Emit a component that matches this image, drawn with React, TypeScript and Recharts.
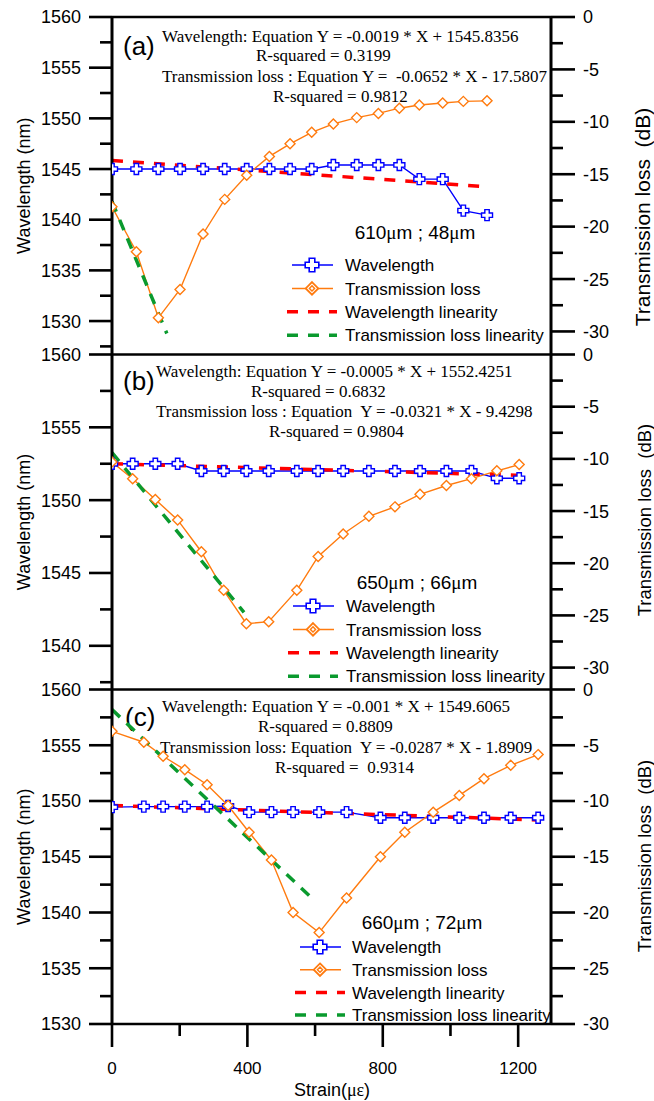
import React from 'react';
import { LineChart, Line, XAxis, YAxis, Legend, Label, ReferenceLine } from 'recharts';

// (a) 610μm ; 48μm
const strainA = [0, 72, 137, 201, 269, 333, 398, 465, 526, 590, 654, 723, 787, 849, 908, 977, 1038, 1108];
const wavelengthA = [1545, 1545, 1545, 1545, 1545, 1545, 1545, 1545, 1545, 1545, 1545.4, 1545.4, 1545.4, 1545.4, 1544.0, 1544.0, 1540.9, 1540.45];
const lossA = [-18.1, -22.4, -28.7, -26.0, -20.7, -17.4, -15.1, -13.3, -12.1, -11.0, -10.2, -9.6, -9.2, -8.7, -8.4, -8.2, -8.05, -8.0];
const wlFitStrainA = [0, 1109];
const wlFitA = [1545.84, 1543.25];
const lossFitStrainA = [0, 162];
const lossFitA = [-17.6, -30.2];

// (b) 650μm ; 66μm
const strainB = [0, 61, 128, 194, 264, 330, 397, 463, 546, 609, 683, 759, 836, 910, 988, 1062, 1137, 1203];
const wavelengthB = [1552.5, 1552.5, 1552.5, 1552.5, 1552.0, 1552.0, 1552.0, 1552.0, 1552.0, 1552.0, 1552.0, 1552.0, 1552.0, 1552.0, 1552.0, 1552.0, 1551.5, 1551.5];
const lossB = [-10.3, -11.9, -13.9, -15.85, -18.9, -22.6, -25.8, -25.6, -22.6, -19.35, -17.2, -15.5, -14.6, -13.4, -12.55, -11.9, -11.15, -10.55];
const wlFitStrainB = [0, 1207];
const wlFitB = [1552.5, 1551.7];
const lossFitStrainB = [0, 390];
const lossFitB = [-9.4, -24.7];

// (c) 660μm ; 72μm
const strainC = [0, 94, 151, 215, 281, 343, 405, 471, 535, 612, 693, 793, 865, 949, 1026, 1099, 1178, 1259];
const wavelengthC = [1549.45, 1549.5, 1549.5, 1549.5, 1549.5, 1549.55, 1549.0, 1549.0, 1549.0, 1549.0, 1549.0, 1548.5, 1548.5, 1548.5, 1548.5, 1548.5, 1548.5, 1548.5];
const lossC = [-3.75, -4.73, -5.99, -7.19, -8.54, -10.4, -12.8, -15.3, -20.0, -21.8, -18.7, -15.0, -12.8, -11.0, -9.5, -8.0, -6.8, -5.84];
const wlFitStrainC = [0, 1259];
const wlFitC = [1549.6, 1548.3];
const lossFitStrainC = [0, 590];
const lossFitC = [-1.8, -18.7];

const strainTicks = [0, 200, 400, 600, 800, 1000, 1200];
const leftTicksA = [1527.5, 1530, 1532.5, 1535, 1537.5, 1540, 1542.5, 1545, 1547.5, 1550, 1552.5, 1555, 1557.5, 1560];
const leftTicksB = [1537.5, 1540, 1542.5, 1545, 1547.5, 1550, 1552.5, 1555, 1557.5, 1560];
const leftTicksC = [1530, 1532.5, 1535, 1537.5, 1540, 1542.5, 1545, 1547.5, 1550, 1552.5, 1555, 1557.5, 1560];
const lossTicks = [-30, -27.5, -25, -22.5, -20, -17.5, -15, -12.5, -10, -7.5, -5, -2.5, 0];

const legendNames = ['Wavelength', 'Transmission loss', 'Wavelength linearity', 'Transmission loss linearity'];

const eqA = ['Wavelength: Equation Y = -0.0019 * X + 1545.8356', 'R-squared = 0.3199', 'Transmission loss : Equation Y =  -0.0652 * X - 17.5807', 'R-squared = 0.9812'];
const eqB = ['Wavelength: Equation Y = -0.0005 * X + 1552.4251', 'R-squared = 0.6832', 'Transmission loss : Equation  Y = -0.0321 * X - 9.4298', 'R-squared = 0.9804'];
const eqC = ['Wavelength: Equation Y = -0.001 * X + 1549.6065', 'R-squared = 0.8809', 'Transmission loss: Equation  Y = -0.0287 * X - 1.8909', 'R-squared =  0.9314'];

const ARIAL = "'Liberation Sans', Arial, sans-serif";
const TIMES = "'Liberation Serif', 'Times New Roman', serif";
const BLUE = '#0000ff';
const ORANGE = '#ff7b0f';
const RED = '#ff0000';
const GREEN = '#0a9a2e';

const table = (s: number[], w: number[], l: number[]) => s.map((x, i) => ({ strain: x, wavelength: w[i], loss: l[i] }));
const fit = (s: number[], v: number[]) => s.map((x, i) => ({ strain: x, value: v[i] }));

const crossPath = (x: number, y: number, l: number, w: number) =>
  `M${x - w},${y - l}H${x + w}V${y - w}H${x + l}V${y + w}H${x + w}V${y + l}H${x - w}V${y + w}H${x - l}V${y - w}H${x - w}Z`;
const diamondPath = (x: number, y: number, r: number) => `M${x},${y - r}L${x + r},${y}L${x},${y + r}L${x - r},${y}Z`;

const CrossDot = (p: any) =>
  p.cx == null ? null : <path key={`c${p.index}`} d={crossPath(p.cx, p.cy, 5.5, 2.2)} fill="#fff" stroke={BLUE} strokeWidth={1.4} />;
const DiamondDot = (p: any) =>
  p.cx == null ? null : <path key={`d${p.index}`} d={diamondPath(p.cx, p.cy, 5)} fill="#fff" stroke={ORANGE} strokeWidth={1.4} />;

const LeftTick = (p: any) => {
  const major = p.payload.value % 5 === 0;
  return (
    <g>
      <line x1={p.x - (major ? 23 : 12)} x2={p.x} y1={p.y} y2={p.y} stroke="#000" strokeWidth={2.6} />
      {major ? (
        <text x={p.x - 31} y={p.y} dy="0.36em" textAnchor="end" fontFamily={ARIAL} fontSize={18} fill="#000">
          {p.payload.value}
        </text>
      ) : null}
    </g>
  );
};

const RightTick = (p: any) => {
  const major = p.payload.value % 5 === 0;
  return (
    <g>
      <line x1={p.x} x2={p.x + (major ? 24 : 12)} y1={p.y} y2={p.y} stroke="#000" strokeWidth={2.6} />
      {major ? (
        <text x={p.x + 32} y={p.y} dy="0.36em" textAnchor="start" fontFamily={ARIAL} fontSize={18} fill="#000">
          {p.payload.value}
        </text>
      ) : null}
    </g>
  );
};

const BottomTick = (p: any) => {
  const major = p.payload.value % 400 === 0;
  return (
    <g>
      <line x1={p.x} x2={p.x} y1={p.y} y2={p.y + (major ? 23 : 12)} stroke="#000" strokeWidth={2.6} />
      {major ? (
        <text x={p.x} y={p.y + 44} dy="0.36em" textAnchor="middle" fontFamily={ARIAL} fontSize={17} fill="#000">
          {p.payload.value}
        </text>
      ) : null}
    </g>
  );
};

type LegendCfg = { lineX: number; textX: number; titleX: number; titleY: number; rowY: number; step: number; a: string; b: string };

const LegendBox = ({ cfg }: { cfg: LegendCfg }) => {
  const ox = cfg.lineX - 8;
  const oy = cfg.titleY - 15;
  const lx = cfg.lineX - ox;
  return (
    <svg width={275} height={140} style={{ display: 'block', overflow: 'visible' }}>
      <text x={cfg.titleX - ox} y={15} dy="0.36em" textAnchor="middle" fontFamily={ARIAL} fontSize={19} fill="#000">
        {cfg.a}
        <tspan fontFamily={TIMES}>μ</tspan>m ; {cfg.b}
        <tspan fontFamily={TIMES}>μ</tspan>m
      </text>
      {legendNames.map((name, i) => {
        const y = cfg.rowY - oy + i * cfg.step;
        const cx = lx + 20;
        let sample: React.ReactNode = null;
        if (i === 0)
          sample = (
            <g>
              <line x1={lx} x2={lx + 41} y1={y} y2={y} stroke={BLUE} strokeWidth={1.5} />
              <path d={crossPath(cx, y, 6.8, 2.8)} fill="#fff" stroke={BLUE} strokeWidth={1.6} />
            </g>
          );
        else if (i === 1)
          sample = (
            <g>
              <line x1={lx} x2={lx + 41} y1={y} y2={y} stroke={ORANGE} strokeWidth={1.5} />
              <path d={diamondPath(cx, y, 6.3)} fill="#fff" stroke={ORANGE} strokeWidth={1.8} />
              <path d={diamondPath(cx, y, 2.6)} fill="none" stroke={ORANGE} strokeWidth={1.4} />
            </g>
          );
        else
          sample = (
            <line x1={lx - 5} x2={lx + 45} y1={y} y2={y} stroke={i === 2 ? RED : GREEN} strokeWidth={3.5} strokeDasharray="11 10" />
          );
        return (
          <g key={name}>
            {sample}
            <text x={cfg.textX - ox} y={y} dy="0.36em" fontFamily={ARIAL} fontSize={17} fill="#000">
              {name}
            </text>
          </g>
        );
      })}
    </svg>
  );
};

type PanelCfg = {
  top: number;
  height: number;
  plotTop: number;
  plotBottom: number;
  showX: boolean;
  rows: any[];
  wlFit: any[];
  lossFit: any[];
  leftDomain: [number, number];
  leftTicks: number[];
  rightDomain: [number, number];
  rightLabelMid: number;
  rightLabelX: number;
  rightLabelSize: number;
  tag: string;
  tagX: number;
  tagY: number;
  eq: string[];
  eqX: number[];
  eqY: number[];
  legend: LegendCfg;
};

const Panel = ({ cfg }: { cfg: PanelCfg }) => {
  const t = cfg.top;
  const xHeight = cfg.showX ? 77 : 0;
  const mTop = cfg.plotTop - t;
  const mBottom = cfg.height - (cfg.plotBottom - t) - xHeight;
  const midY = (cfg.plotTop + cfg.plotBottom) / 2 - t;
  const rMid = cfg.rightLabelMid - t;
  const rx = cfg.rightLabelX;
  return (
    <div style={{ position: 'absolute', left: 0, top: t }}>
      <LineChart width={654} height={cfg.height} data={cfg.rows} margin={{ top: mTop, right: 3, bottom: mBottom, left: 12 }}>
        <XAxis
          dataKey="strain"
          type="number"
          domain={[0, 1297]}
          allowDataOverflow
          ticks={strainTicks}
          interval={0}
          height={xHeight}
          tick={cfg.showX ? BottomTick : false}
          tickLine={false}
          tickSize={0}
          tickMargin={0}
          axisLine={{ stroke: '#000', strokeWidth: 2.6 }}
        >
          {cfg.showX ? (
            <Label
              content={() => (
                <text x={332} y={cfg.height - 5} textAnchor="middle" fontFamily={ARIAL} fontSize={18} fill="#000">
                  Strain(<tspan fontFamily={TIMES}>με</tspan>)
                </text>
              )}
            />
          ) : null}
        </XAxis>
        <YAxis
          yAxisId="left"
          width={100}
          type="number"
          domain={cfg.leftDomain}
          allowDataOverflow
          ticks={cfg.leftTicks}
          interval={0}
          tick={LeftTick}
          tickLine={false}
          tickSize={0}
          tickMargin={0}
          axisLine={{ stroke: '#000', strokeWidth: 3 }}
        >
          <Label
            content={() => (
              <text x={30} y={midY} transform={`rotate(-90 30 ${midY})`} textAnchor="middle" fontFamily={ARIAL} fontSize={18} fill="#000">
                Wavelength (nm)
              </text>
            )}
          />
        </YAxis>
        <YAxis
          yAxisId="right"
          orientation="right"
          width={100}
          type="number"
          domain={cfg.rightDomain}
          allowDataOverflow
          ticks={lossTicks}
          interval={0}
          tick={RightTick}
          tickLine={false}
          tickSize={0}
          tickMargin={0}
          axisLine={{ stroke: '#000', strokeWidth: 3 }}
        >
          <Label
            content={() => (
              <text
                x={rx}
                y={rMid}
                transform={`rotate(-90 ${rx} ${rMid})`}
                textAnchor="middle"
                fontFamily={ARIAL}
                fontSize={cfg.rightLabelSize}
                fill="#000"
                style={{ whiteSpace: 'pre' }}
              >
                Transmission loss  (dB)
              </text>
            )}
          />
        </YAxis>
        <ReferenceLine yAxisId="left" y={cfg.leftDomain[1]} stroke="#000" strokeWidth={2.4} />
        <Line yAxisId="left" dataKey="wavelength" stroke={BLUE} strokeWidth={1.4} dot={CrossDot} isAnimationActive={false} />
        <Line yAxisId="right" dataKey="loss" stroke={ORANGE} strokeWidth={1.4} dot={DiamondDot} isAnimationActive={false} />
        <Line yAxisId="left" data={cfg.wlFit} dataKey="value" stroke={RED} strokeWidth={3.5} strokeDasharray="11 10" dot={false} isAnimationActive={false} />
        <Line yAxisId="right" data={cfg.lossFit} dataKey="value" stroke={GREEN} strokeWidth={3.5} strokeDasharray="11 9" dot={false} isAnimationActive={false} />
        <Legend
          layout="vertical"
          align="center"
          verticalAlign="middle"
          content={() => <LegendBox cfg={cfg.legend} />}
          wrapperStyle={{ left: cfg.legend.lineX - 8, top: cfg.legend.titleY - 15 - t, right: 'auto', bottom: 'auto', width: 275, height: 140 }}
        />
        <g>
          <text x={cfg.tagX} y={cfg.tagY - t} fontFamily={ARIAL} fontSize={26} fill="#000">
            {cfg.tag}
          </text>
          {cfg.eq.map((s, i) => (
            <text key={i} x={cfg.eqX[i]} y={cfg.eqY[i] - t} fontFamily={TIMES} fontSize={17} fill="#000" style={{ whiteSpace: 'pre' }}>
              {s}
            </text>
          ))}
        </g>
      </LineChart>
    </div>
  );
};

export default function App() {
  const panels: PanelCfg[] = [
    {
      top: 0,
      height: 370,
      plotTop: 17,
      plotBottom: 354.5,
      showX: false,
      rows: table(strainA, wavelengthA, lossA),
      wlFit: fit(wlFitStrainA, wlFitA),
      lossFit: fit(lossFitStrainA, lossFitA),
      leftDomain: [1526.7, 1560],
      leftTicks: leftTicksA,
      rightDomain: [-32.2, 0],
      rightLabelMid: 217,
      rightLabelX: 650,
      rightLabelSize: 21,
      tag: '(a)',
      tagX: 123,
      tagY: 54.5,
      eq: eqA,
      eqX: [162, 256, 162, 273],
      eqY: [41.5, 61, 81.5, 101.5],
      legend: { lineX: 292, textX: 345, titleX: 415, titleY: 232, rowY: 265, step: 23.4, a: '610', b: '48' },
    },
    {
      top: 340,
      height: 360,
      plotTop: 354.5,
      plotBottom: 689.5,
      showX: false,
      rows: table(strainB, wavelengthB, lossB),
      wlFit: fit(wlFitStrainB, wlFitB),
      lossFit: fit(lossFitStrainB, lossFitB),
      leftDomain: [1537, 1560],
      leftTicks: leftTicksB,
      rightDomain: [-32.1, 0],
      rightLabelMid: 520,
      rightLabelX: 651,
      rightLabelSize: 18.5,
      tag: '(b)',
      tagX: 123,
      tagY: 390,
      eq: eqB,
      eqX: [156, 251, 156, 269],
      eqY: [376.7, 397.3, 417.3, 437.3],
      legend: { lineX: 293, textX: 346, titleX: 417, titleY: 582, rowY: 606, step: 23.4, a: '650', b: '66' },
    },
    {
      top: 676,
      height: 425,
      plotTop: 689.5,
      plotBottom: 1024,
      showX: true,
      rows: table(strainC, wavelengthC, lossC),
      wlFit: fit(wlFitStrainC, wlFitC),
      lossFit: fit(lossFitStrainC, lossFitC),
      leftDomain: [1530, 1560],
      leftTicks: leftTicksC,
      rightDomain: [-30, 0],
      rightLabelMid: 856,
      rightLabelX: 651,
      rightLabelSize: 18.5,
      tag: '(c)',
      tagX: 125,
      tagY: 726,
      eq: eqC,
      eqX: [162, 258, 160, 275],
      eqY: [711.7, 731.7, 752.7, 772.7],
      legend: { lineX: 300, textX: 352, titleX: 422, titleY: 922, rowY: 947, step: 22.7, a: '660', b: '72' },
    },
  ];
  return (
    <div style={{ position: 'absolute', left: 0, top: 0, width: 654, height: 1101, background: '#fff', overflow: 'hidden' }}>
      {panels.map((p) => (
        <Panel key={p.tag} cfg={p} />
      ))}
    </div>
  );
}
